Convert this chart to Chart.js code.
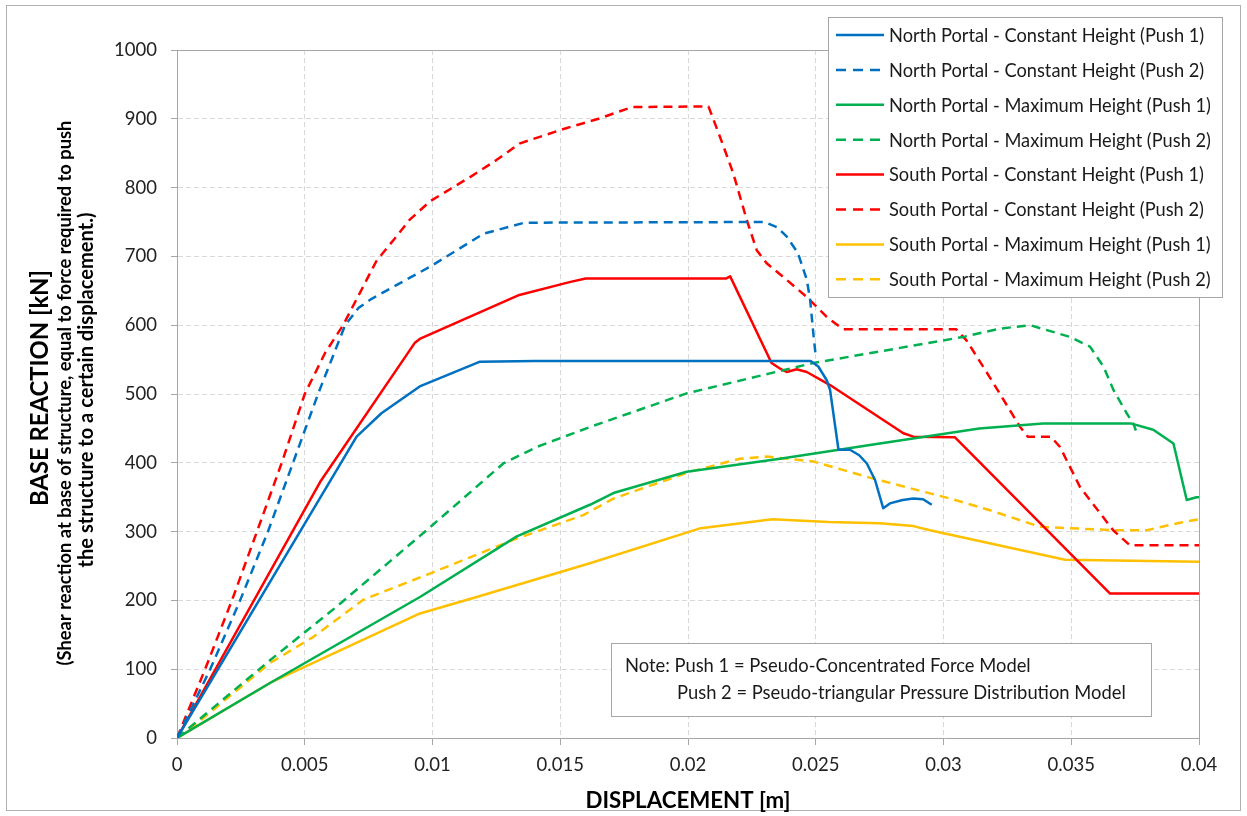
<!DOCTYPE html>
<html>
<head>
<meta charset="utf-8">
<script src="https://cdn.jsdelivr.net/npm/chart.js@4.4.1/dist/chart.umd.min.js"></script>
<style>
html,body{margin:0;padding:0;background:#fff;}
#wrap{width:1247px;height:816px;position:relative;}
canvas{display:block;}
</style>
</head>
<body>
<div id="wrap"><canvas id="c" width="1247" height="816"></canvas></div>
<script>
// ---------- DATA ----------
const seriesNames = [
  'North Portal - Constant Height (Push 1)',
  'North Portal - Constant Height (Push 2)',
  'North Portal - Maximum Height (Push 1)',
  'North Portal - Maximum Height (Push 2)',
  'South Portal - Constant Height (Push 1)',
  'South Portal - Constant Height (Push 2)',
  'South Portal - Maximum Height (Push 1)',
  'South Portal - Maximum Height (Push 2)'
];
const xTickLabels = ['0','0.005','0.01','0.015','0.02','0.025','0.03','0.035','0.04'];
const yTickLabels = ['0','100','200','300','400','500','600','700','800','900','1000'];

const ncp1X = [0, 0.00703, 0.0080, 0.0095, 0.01186, 0.0140, 0.0248, 0.0251, 0.02543, 0.02556, 0.02589, 0.02634, 0.0267, 0.0270, 0.02732, 0.02764, 0.0279, 0.0284, 0.02882, 0.0292, 0.02954];
const ncp1Y = [0, 438, 472, 511, 547, 548, 548, 540, 520, 506, 419, 419, 411, 399, 375, 334, 341, 346, 348, 347, 339];

const ncp2X = [0, 0.0013, 0.00247, 0.00356, 0.00454, 0.00552, 0.00658, 0.0071, 0.0076, 0.0099, 0.012, 0.0136, 0.0230, 0.0235, 0.02386, 0.0243, 0.02465, 0.02478, 0.0249, 0.0250];
const ncp2Y = [0, 100, 200, 300, 400, 500, 600, 625, 638, 685, 733, 749, 750, 742, 729, 705, 666, 637, 590, 555];

const nmp1X = [0, 0.00364, 0.00951, 0.0133, 0.01616, 0.01708, 0.01995, 0.0236, 0.02751, 0.0314, 0.0339, 0.03736, 0.03821, 0.0390, 0.03952, 0.0399, 0.0400];
const nmp1Y = [0, 80, 205, 293, 339, 356, 387, 406, 428, 450, 457, 457, 448, 428, 346, 350, 350];

const nmp2X = [0, 0.00364, 0.00625, 0.00977, 0.01277, 0.01408, 0.01616, 0.01995, 0.0249, 0.03078, 0.0322, 0.03339, 0.03495, 0.03573, 0.03626, 0.03665, 0.03717, 0.03743, 0.03753];
const nmp2Y = [0, 113, 191, 302, 399, 423, 452, 501, 545, 583, 595, 600, 583, 569, 540, 506, 472, 457, 447];

const scp1X = [0, 0.0056, 0.0093, 0.0095, 0.0134, 0.0154, 0.0160, 0.0215, 0.02165, 0.02327, 0.02364, 0.02386, 0.02425, 0.02465, 0.02556, 0.02843, 0.02882, 0.03045, 0.03652, 0.0400];
const scp1Y = [0, 372, 574, 580, 644, 663, 668, 668, 671, 545, 536, 532, 536, 532, 513, 443, 438, 437, 210, 210];

const scp2X = [0, 0.0011, 0.00215, 0.00313, 0.0041, 0.0050, 0.0058, 0.0065, 0.0072, 0.0078, 0.0085, 0.0091, 0.0099, 0.0115, 0.0125, 0.0134, 0.0152, 0.0165, 0.0178, 0.0208, 0.02125, 0.02177, 0.0223, 0.02269, 0.02308, 0.02386, 0.02465, 0.02543, 0.02607, 0.0305, 0.0309, 0.0318, 0.0330, 0.0333, 0.0342, 0.03456, 0.03534, 0.03664, 0.0373, 0.0400];
const scp2Y = [0, 100, 200, 300, 400, 500, 560, 600, 650, 693, 725, 753, 780, 816, 840, 864, 886, 900, 917, 918, 874, 821, 753, 709, 690, 666, 641, 612, 594, 594, 578, 525, 452, 438, 438, 423, 365, 302, 280, 280];

const smp1X = [0, 0.00364, 0.00951, 0.01173, 0.01616, 0.0205, 0.0233, 0.0255, 0.02751, 0.02882, 0.02947, 0.03476, 0.0400];
const smp1Y = [0, 80, 181, 205, 254, 305, 318, 314, 312, 308, 302, 259, 256];

const smp2X = [0, 0.0008, 0.00364, 0.00534, 0.00729, 0.0099, 0.01316, 0.0159, 0.01708, 0.02008, 0.02204, 0.02308, 0.0249, 0.02725, 0.03026, 0.03182, 0.03378, 0.03665, 0.03795, 0.03926, 0.0400];
const smp2Y = [0, 22, 109, 147, 201, 239, 288, 324, 348, 387, 406, 409, 402, 377, 348, 331, 307, 302, 302, 313, 318];

const noteLines = ['Note: Push 1 = Pseudo-Concentrated Force Model', 'Push 2 = Pseudo-triangular Pressure Distribution Model'];
const xTitle = 'DISPLACEMENT [m]';
const yTitle1 = 'BASE REACTION [kN]';
const yTitle2 = '(Shear reaction at base of structure, equal to force required to push';
const yTitle3 = 'the structure to a certain displacement.)';

// ---------- STYLE ----------
const seriesXs = [ncp1X, ncp2X, nmp1X, nmp2X, scp1X, scp2X, smp1X, smp2X];
const seriesYs = [ncp1Y, ncp2Y, nmp1Y, nmp2Y, scp1Y, scp2Y, smp1Y, smp2Y];
const seriesColors = ['#0070C0','#0070C0','#00B050','#00B050','#FF0000','#FF0000','#FFC000','#FFC000'];
const seriesDashed = [false,true,false,true,false,true,false,true];
const DASH = [9,6];
const FONT = 'Lato, "Open Sans", sans-serif';
const GRID = '#d9d9d9';
const AXIS = '#a6a6a6';

const datasets = seriesNames.map((name, i) => ({
  label: name,
  data: seriesXs[i].map((x, j) => ({x: x, y: seriesYs[i][j]})),
  borderColor: seriesColors[i],
  backgroundColor: seriesColors[i],
  borderWidth: 2.5,
  borderDash: seriesDashed[i] ? DASH : [],
  pointRadius: 0,
  pointHoverRadius: 0,
  showLine: true,
  fill: false,
  tension: 0,
  borderJoinStyle: 'round',
  borderCapStyle: 'butt'
}));

function fitSize(ctx, text, target, weight) {
  ctx.font = weight + ' 100px ' + FONT;
  return 100 * target / ctx.measureText(text).width;
}

const decor = {
  id: 'decor',
  beforeDraw(chart) {
    const ctx = chart.ctx;
    ctx.save();
    ctx.fillStyle = '#fff';
    ctx.fillRect(0, 0, chart.width, chart.height);
    ctx.strokeStyle = '#b0b0b0';
    ctx.lineWidth = 1;
    ctx.strokeRect(6.5, 5.5, 1234, 805);
    ctx.restore();
  },
  beforeDatasetsDraw(chart) {
    const ctx = chart.ctx;
    const a = chart.chartArea;
    ctx.save();
    ctx.strokeStyle = AXIS;
    ctx.lineWidth = 1;
    ctx.beginPath();
    ctx.moveTo(a.left, Math.round(a.top) + 0.5);
    ctx.lineTo(Math.round(a.right) + 0.5, Math.round(a.top) + 0.5);
    ctx.lineTo(Math.round(a.right) + 0.5, a.bottom);
    ctx.stroke();
    ctx.restore();
  },
  afterDraw(chart) {
    const ctx = chart.ctx;
    ctx.save();
    // ---- legend ----
    ctx.fillStyle = '#fff';
    ctx.fillRect(828, 17, 394, 280);
    ctx.strokeStyle = AXIS;
    ctx.lineWidth = 1;
    ctx.strokeRect(828.5, 17.5, 394, 280);
    const ls = fitSize(ctx, seriesNames[2], 322, 'normal');
    ctx.font = 'normal ' + ls.toFixed(2) + 'px ' + FONT;
    ctx.textBaseline = 'middle';
    ctx.textAlign = 'left';
    seriesNames.forEach((n, i) => {
      const y = 35 + 34.9 * i;
      ctx.strokeStyle = seriesColors[i];
      ctx.lineWidth = 2.5;
      ctx.setLineDash(seriesDashed[i] ? [10, 7] : []);
      ctx.beginPath();
      ctx.moveTo(836, y);
      ctx.lineTo(884, y);
      ctx.stroke();
      ctx.setLineDash([]);
      ctx.fillStyle = '#1a1a1a';
      ctx.fillText(n, 889, y + 1);
    });
    // ---- note ----
    ctx.fillStyle = '#fff';
    ctx.fillRect(611, 643, 540, 73);
    ctx.strokeStyle = AXIS;
    ctx.lineWidth = 1;
    ctx.strokeRect(611.5, 643.5, 540, 73);
    const ns = fitSize(ctx, noteLines[1], 449, 'normal');
    ctx.font = 'normal ' + ns.toFixed(2) + 'px ' + FONT;
    ctx.fillStyle = '#1a1a1a';
    ctx.fillText(noteLines[0], 625, 666);
    ctx.fillText(noteLines[1], 677, 693);
    // ---- x title ----
    const xs = fitSize(ctx, xTitle, 205, 'bold');
    ctx.font = 'bold ' + xs.toFixed(2) + 'px ' + FONT;
    ctx.textAlign = 'center';
    ctx.fillStyle = '#000';
    ctx.fillText(xTitle, 688, 801);
    // ---- y title ----
    const y1 = fitSize(ctx, yTitle1, 236, 'bold');
    const y2 = fitSize(ctx, yTitle2, 545, 'bold');
    const y3 = fitSize(ctx, yTitle3, 355, 'bold');
    const drawRot = (text, x, y, size) => {
      ctx.save();
      ctx.translate(x, y);
      ctx.rotate(-Math.PI / 2);
      ctx.font = 'bold ' + size.toFixed(2) + 'px ' + FONT;
      ctx.fillText(text, 0, 0);
      ctx.restore();
    };
    drawRot(yTitle1, 40, 388, y1);
    drawRot(yTitle2, 65, 393, y2);
    drawRot(yTitle3, 87, 390, y3);
    ctx.restore();
  }
};

const chart = new Chart(document.getElementById('c'), {
  type: 'scatter',
  data: { datasets: datasets },
  plugins: [decor],
  options: {
    responsive: false,
    animation: false,
    events: [],
    layout: { padding: { left: 0, top: 50, right: 48, bottom: 0 } },
    plugins: { legend: { display: false }, tooltip: { enabled: false }, title: { display: false } },
    scales: {
      x: {
        type: 'linear',
        min: 0, max: 0.04,
        afterFit(s) { s.height = 78; },
        afterBuildTicks(s) { s.ticks = xTickLabels.map((t, i) => ({ value: i * 0.005 })); },
        ticks: {
          callback: (v, i) => xTickLabels[i],
          font: { family: FONT, size: 18.5 },
          color: '#222',
          padding: 9,
          maxRotation: 0,
          autoSkip: false
        },
        grid: { color: GRID, tickColor: AXIS, tickLength: 7, tickBorderDash: [] },
        border: { display: true, color: AXIS, width: 1, dash: [5, 3] }
      },
      y: {
        type: 'linear',
        min: 0, max: 1000,
        afterFit(s) { s.width = 177; },
        afterBuildTicks(s) { s.ticks = yTickLabels.map((t, i) => ({ value: i * 100 })); },
        ticks: {
          callback: (v, i) => yTickLabels[i],
          font: { family: FONT, size: 18.5 },
          color: '#222',
          padding: 14,
          autoSkip: false
        },
        grid: { color: GRID, tickColor: AXIS, tickLength: 6, tickBorderDash: [] },
        border: { display: true, color: AXIS, width: 1, dash: [5, 3] }
      }
    }
  }
});
</script>
</body>
</html>
